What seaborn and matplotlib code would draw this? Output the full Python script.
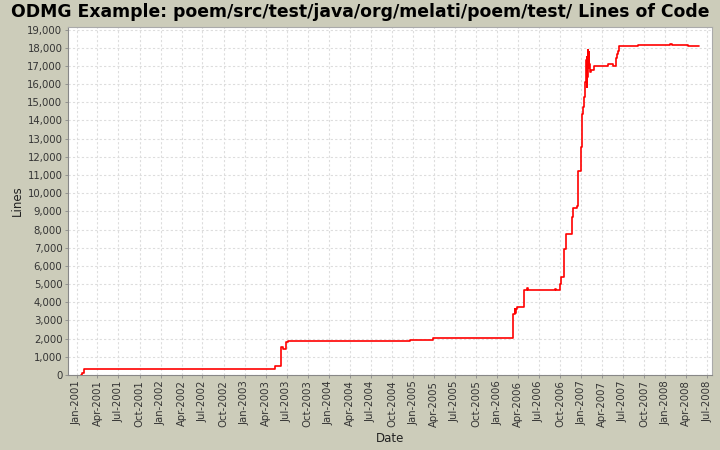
import matplotlib
matplotlib.use("Agg")
import matplotlib.pyplot as plt
import matplotlib.dates as mdates
import matplotlib.ticker as mticker
import pandas as pd
import seaborn as sns

dates = [
    "2001-01-19", "2001-01-23", "2001-02-03", "2003-05-11", "2003-06-09",
    "2003-06-16", "2003-06-28", "2003-07-06", "2004-12-18", "2005-01-06",
    "2005-01-09", "2005-03-29", "2006-03-11", "2006-03-18", "2006-03-20",
    "2006-03-22", "2006-03-26", "2006-04-27", "2006-05-11", "2006-05-14",
    "2006-09-11", "2006-09-15", "2006-10-02", "2006-10-05", "2006-10-18",
    "2006-10-27", "2006-11-22", "2006-11-26", "2006-12-13", "2006-12-17",
    "2006-12-30", "2007-01-05", "2007-01-09", "2007-01-12", "2007-01-18",
    "2007-01-21", "2007-01-24", "2007-01-26", "2007-01-28", "2007-01-30",
    "2007-02-01", "2007-02-03", "2007-02-05", "2007-02-07", "2007-02-12",
    "2007-02-24", "2007-04-29", "2007-05-19", "2007-06-01", "2007-06-05",
    "2007-06-08", "2007-06-14", "2007-09-05", "2008-01-23", "2008-01-31",
    "2008-04-10", "2008-05-28",
]
lines = [
    0, 100, 310, 490, 1520,
    1410, 1800, 1850, 1900, 1950,
    1900, 2015, 3330, 3610, 3400,
    3610, 3750, 4650, 4760, 4650,
    4710, 4650, 5030, 5380, 6940,
    7730, 8710, 9210, 9300, 11200,
    12540, 14370, 14760, 15280, 16100,
    17300, 15830, 17500, 16400, 17850,
    16900, 17750, 17100, 16650, 16750,
    16970, 17120, 16970, 17430, 17670,
    17810, 18100, 18160, 18210, 18140,
    18070, 18120,
]
y_ticks = list(range(0, 19001, 1000))
title = "ODMG Example: poem/src/test/java/org/melati/poem/test/ Lines of Code"
x_label = "Date"
y_label = "Lines"

df = pd.DataFrame({"Date": pd.to_datetime(dates), "Lines": lines})

sns.set_style("white")
plt.rcParams["font.family"] = ["DejaVu Sans"]

bg = "#CCCCBA"
fig = plt.figure(figsize=(7.2, 4.5), dpi=100, facecolor=bg)
ax = fig.add_axes([68 / 720, 1 - 375 / 450, (712 - 68) / 720, (375 - 27) / 450])
ax.set_facecolor("white")

sns.lineplot(data=df, x="Date", y="Lines", ax=ax, color="#FF0000",
             linewidth=1.2, drawstyle="steps-post", estimator=None)

ax.set_xlim(pd.Timestamp("2000-11-24"), pd.Timestamp("2008-07-22"))
ax.set_ylim(0, 19140)
ax.xaxis.set_major_locator(mdates.MonthLocator(bymonth=[1, 4, 7, 10]))
ax.xaxis.set_major_formatter(mdates.DateFormatter("%b-%Y"))
ax.set_yticks(y_ticks)
ax.yaxis.set_major_formatter(mticker.FuncFormatter(lambda v, p: f"{int(v):,}"))

ax.grid(True, color="#DDDDDD", linestyle=(0, (2, 2)), linewidth=0.8)
for s in ax.spines.values():
    s.set_color("#AAAAAA")
    s.set_linewidth(0.8)
ax.spines["left"].set_color("#888888")
ax.spines["bottom"].set_color("#888888")
ax.tick_params(axis="both", which="major", length=2, width=0.6, color="#888888",
               labelsize=7.3, labelcolor="#333333", pad=2, direction="out",
               bottom=True, left=True)
plt.setp(ax.get_xticklabels(), rotation=90)

ax.set_xlabel(x_label, fontsize=8.5, color="#222222", labelpad=3)
ax.set_ylabel(y_label, fontsize=8.5, color="#222222", labelpad=2.5)

fig.text(0.5, 1 - 12 / 450, title, ha="center", va="center",
         fontsize=12.4, fontweight="bold", color="black")

fig.savefig("out.png", dpi=100, facecolor=bg)
